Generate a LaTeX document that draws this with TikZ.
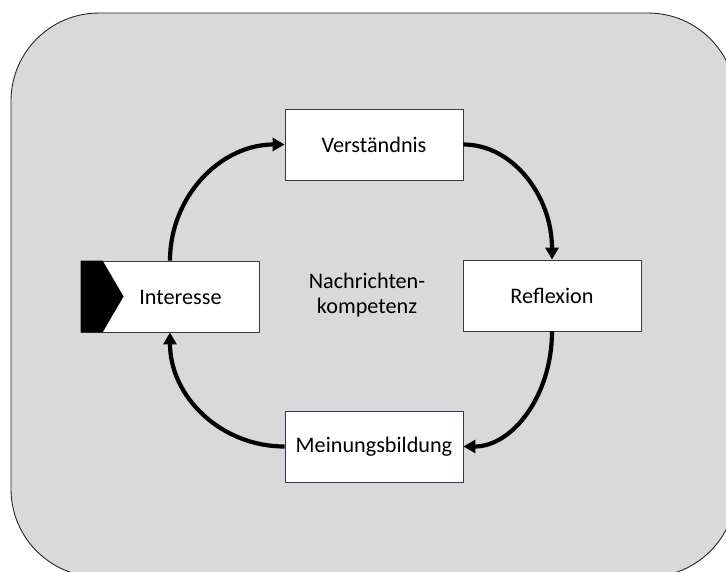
\documentclass[tikz,border=0pt]{standalone}
\usepackage{fontspec}
\setmainfont{Carlito}
\usetikzlibrary{arrows.meta}
\definecolor{bg}{HTML}{D9D9D9}
\definecolor{boxline}{HTML}{3A3A3A}
\definecolor{navyline}{HTML}{2F3B55}
\begin{document}
\begin{tikzpicture}[x=1pt,y=-1pt,
  box/.style={draw=boxline, fill=white, line width=0.9pt, minimum width=178pt,
    minimum height=71pt, inner sep=0pt, font=\fontsize{22.2}{25}\selectfont},
  lbl/.style={font=\fontsize{22.2}{25}\selectfont, inner sep=0pt, align=center},
  flow/.style={line width=4.2pt, -{Triangle[length=12pt,width=13pt]}}]
\useasboundingbox (0,0) rectangle (726,571);
\begin{scope}
  \clip (0,0) rectangle (726,571);
  \draw[fill=bg, draw=black!85, line width=0.9pt, rounded corners=88pt] (11,13) rectangle (736,577);
\end{scope}
\node[box] (V) at (374,144.5) {Verständnis};
\node[box] (R) at (552,295.5) {Reflexion};
\node[box, draw=navyline] (M) at (374,446.5) {Meinungsbildung};
\node[box] (I) at (170,296.5) {};
\fill (I.north west) -- ([xshift=22pt]I.north west) -- ([xshift=43pt]I.west)
  -- ([xshift=22pt]I.south west) -- (I.south west) -- cycle;
\node[lbl] (It) at (180.5,297) {Interesse};
\node[lbl] (N) at (367,295) {Nachrichten-\\kompetenz};
\draw[flow] (I.north) .. controls +(0,-64) and +(-64,0) .. (V.west);
\draw[flow] (V.east) .. controls +(49,0) and +(0,-64) .. (R.north);
\draw[flow] (R.south) .. controls +(0,64) and +(49,0) .. (M.east);
\draw[flow] (M.west) .. controls +(-64,0) and +(0,64) .. (I.south);
\end{tikzpicture}
\end{document}
